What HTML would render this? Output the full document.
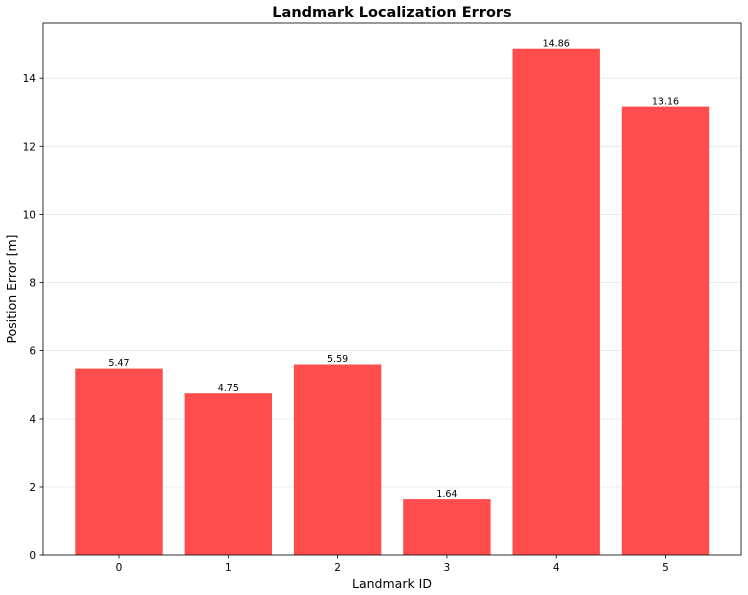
<!DOCTYPE html>
<html><head><style>body{margin:0;background:#fff}svg{display:block}</style></head>
<body>
<svg width="748" height="595" xmlns="http://www.w3.org/2000/svg" font-family="DejaVu Sans, Liberation Sans, sans-serif">
<rect width="748" height="595" fill="#fff"/>
<g stroke="#e6e6e6" stroke-width="0.8">
<line x1="43" x2="741" y1="487" y2="487"/><line x1="43" x2="741" y1="419" y2="419"/>
<line x1="43" x2="741" y1="350.6" y2="350.6"/><line x1="43" x2="741" y1="282.5" y2="282.5"/>
<line x1="43" x2="741" y1="214.4" y2="214.4"/><line x1="43" x2="741" y1="146.3" y2="146.3"/>
<line x1="43" x2="741" y1="78.2" y2="78.2"/>
</g>
<g fill="#ff4c4c">
<rect x="75.3" y="368.6" width="87.4" height="186.4"/>
<rect x="184.6" y="393.2" width="87.4" height="161.8"/>
<rect x="293.9" y="364.5" width="87.4" height="190.5"/>
<rect x="403.2" y="499.1" width="87.4" height="55.9"/>
<rect x="512.5" y="48.7" width="87.4" height="506.3"/>
<rect x="621.8" y="106.6" width="87.4" height="448.4"/>
</g>
<g font-size="9.5" text-anchor="middle" fill="#000">
<text x="119" y="366">5.47</text><text x="228.3" y="391">4.75</text>
<text x="337.6" y="362">5.59</text><text x="446.9" y="497">1.64</text>
<text x="556.2" y="46.5">14.86</text><text x="665.5" y="104.5">13.16</text>
</g>
<rect x="43" y="23" width="698" height="532" fill="none" stroke="#000" stroke-width="0.8"/>
<g stroke="#000" stroke-width="0.8">
<line x1="39.5" x2="43" y1="555" y2="555"/><line x1="39.5" x2="43" y1="487" y2="487"/>
<line x1="39.5" x2="43" y1="419" y2="419"/><line x1="39.5" x2="43" y1="350.6" y2="350.6"/>
<line x1="39.5" x2="43" y1="282.5" y2="282.5"/><line x1="39.5" x2="43" y1="214.4" y2="214.4"/>
<line x1="39.5" x2="43" y1="146.3" y2="146.3"/><line x1="39.5" x2="43" y1="78.2" y2="78.2"/>
<line x1="119" x2="119" y1="555" y2="558.5"/><line x1="228.3" x2="228.3" y1="555" y2="558.5"/>
<line x1="337.6" x2="337.6" y1="555" y2="558.5"/><line x1="446.9" x2="446.9" y1="555" y2="558.5"/>
<line x1="556.2" x2="556.2" y1="555" y2="558.5"/><line x1="665.5" x2="665.5" y1="555" y2="558.5"/>
</g>
<g font-size="10.5" text-anchor="end" fill="#000">
<text x="36" y="559">0</text><text x="36" y="491">2</text><text x="36" y="423">4</text>
<text x="36" y="354.6">6</text><text x="36" y="286.5">8</text><text x="36" y="218.4">10</text>
<text x="36" y="150.3">12</text><text x="36" y="82.2">14</text>
</g>
<g font-size="10.5" text-anchor="middle" fill="#000">
<text x="119" y="571">0</text><text x="228.3" y="571">1</text><text x="337.6" y="571">2</text>
<text x="446.9" y="571">3</text><text x="556.2" y="571">4</text><text x="665.5" y="571">5</text>
</g>
<text x="392" y="588" font-size="12.5" text-anchor="middle">Landmark ID</text>
<text x="16" y="289" font-size="12.5" text-anchor="middle" transform="rotate(-90 16 289)">Position Error [m]</text>
<text x="392" y="17" font-size="14.5" font-weight="bold" text-anchor="middle">Landmark Localization Errors</text>
</svg>
</body></html>
